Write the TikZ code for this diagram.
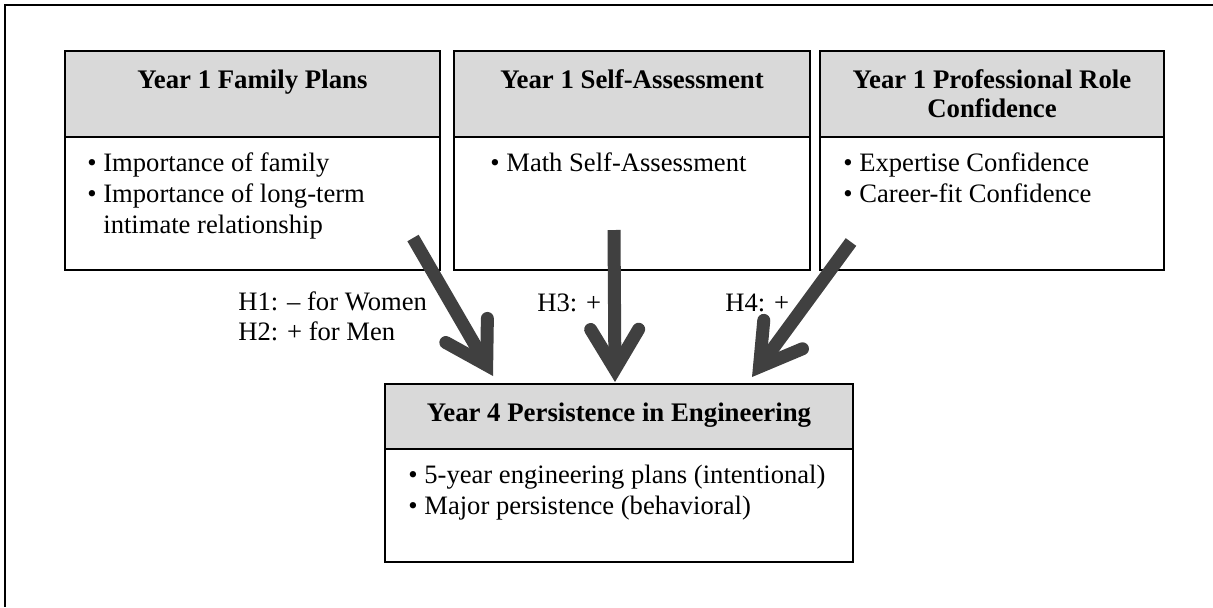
\documentclass[tikz,border=0pt]{standalone}
\usepackage{fontspec}
\setmainfont{Liberation Serif}
\usetikzlibrary{positioning,arrows.meta}
\definecolor{hdrgray}{HTML}{D9D9D9}
\definecolor{arrgray}{HTML}{404040}
\tikzset{
  hdr/.style={draw, fill=hdrgray, line width=0.8pt, inner sep=0pt, outer sep=0pt, anchor=north west},
  bdy/.style={draw, fill=white, line width=0.8pt, inner sep=0pt, outer sep=0pt},
  httl/.style={font=\fontsize{13.4}{14.5}\selectfont\bfseries, align=center, inner sep=0pt, anchor=base},
  blist/.style={font=\fontsize{13.3}{15.5}\selectfont, align=left, inner sep=0pt, anchor=base west},
  hlbl/.style={font=\fontsize{13.3}{15}\selectfont, align=left, inner sep=0pt, anchor=base west},
  fat/.style={line width=6.5pt, draw=arrgray, -{Straight Barb[line cap=round, line join=miter, length=20pt, width=24pt]}}
}

\begin{document}
\begin{tikzpicture}[x=0.5pt,y=-0.5pt]
\useasboundingbox (0,0) rectangle (1213,607);
\draw[line width=1pt] (1213,5) -| (5,607);

% year 1 boxes
\node[hdr, minimum width=187.5pt, minimum height=43pt] (hfam) at (65,51) {};
\node[bdy, minimum width=187.5pt, minimum height=66.5pt, below=0pt of hfam] (bfam) {};
\node[hdr, minimum width=178pt, minimum height=43pt, right=7pt of hfam] (hself) {};
\node[bdy, minimum width=178pt, minimum height=66.5pt, below=0pt of hself] (bself) {};
\node[hdr, minimum width=172pt, minimum height=43pt, right=5pt of hself] (hprof) {};
\node[bdy, minimum width=172pt, minimum height=66.5pt, below=0pt of hprof] (bprof) {};

% year 4 box
\node[hdr, minimum width=234pt, minimum height=32.5pt] (hpers) at (385,384) {};
\node[bdy, minimum width=234pt, minimum height=56.5pt, below=0pt of hpers] (bpers) {};

% titles (base = last line)
\node[httl] (tfam) at (252.5,88) {Year 1 Family Plans};
\node[httl] (tself) at (632,88) {Year 1 Self-Assessment};
\node[httl] (tprof) at (992,117) {Year 1 Professional Role\\Confidence};
\node[httl] (tpers) at (619,421) {Year 4 Persistence in Engineering};

\node[blist] (lfam) at (87,233) {\textbullet\ Importance of family\\\textbullet\ Importance of long-term\\\phantom{\textbullet\ }intimate relationship};
\node[blist] (lself) at (490,171) {\textbullet\ Math Self-Assessment};
\node[blist] (lprof) at (843,202) {\textbullet\ Expertise Confidence\\\textbullet\ Career-fit Confidence};
\node[blist] (lpers) at (408,514) {\textbullet\ 5-year engineering plans (intentional)\\\textbullet\ Major persistence (behavioral)};

\node[hlbl] (lh12) at (238,340) {H1: -- for Women\\H2: + for Men};
\node[hlbl] (lh3) at (537,311) {H3: +};
\node[hlbl] (lh4) at (725,311) {H4: +};

% arrows
\coordinate (a1s) at (413,238);
\coordinate (a1e) at (493,376);
\coordinate (a2s) at (614,230);
\coordinate (a2e) at (615,382);
\coordinate (a3s) at (851,242);
\coordinate (a3e) at (752,377);
\draw[fat] (a1s) -- (a1e);
\draw[fat] (a2s) -- (a2e);
\draw[fat] (a3s) -- (a3e);

\end{tikzpicture}
\end{document}
